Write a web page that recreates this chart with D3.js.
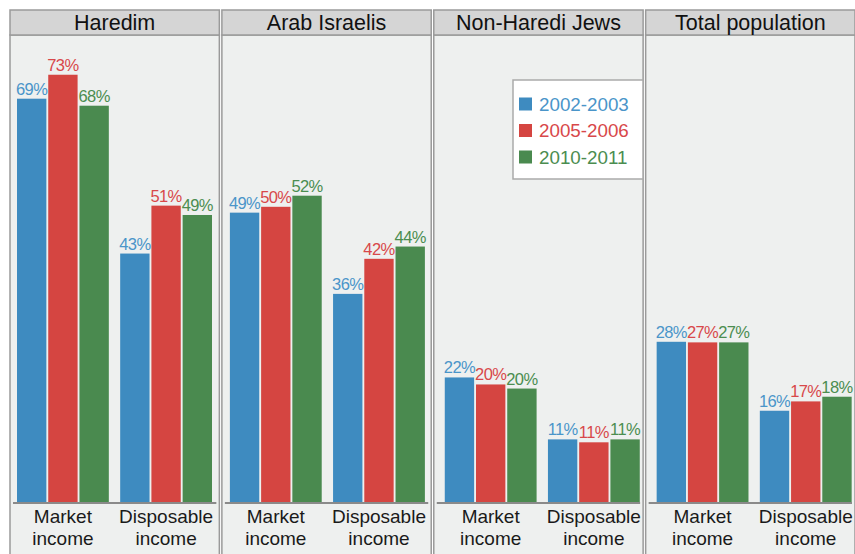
<!DOCTYPE html>
<html><head><meta charset="utf-8">
<script src="https://cdn.jsdelivr.net/npm/d3@7"></script>
<style>body{margin:0;background:#fff;font-family:"Liberation Sans",Arial,sans-serif;}</style>
</head><body><svg id="c" width="855" height="554"></svg>
<script>
const panels = ["Haredim", "Arab Israelis", "Non-Haredi Jews", "Total population"];
const categories = ["Market income", "Disposable income"];
const series = ["2002-2003", "2005-2006", "2010-2011"];
// values[category][series] in %
const haredimValues = [[69.1, 73.2, 67.9], [42.6, 50.8, 49.2]];
const arabValues = [[49.6, 50.6, 52.5], [35.7, 41.7, 43.8]];
const nonHarediValues = [[21.4, 20.2, 19.5], [10.8, 10.3, 10.8]];
const totalValues = [[27.5, 27.4, 27.4], [15.7, 17.3, 18.1]];
const haredimLabels = [[69, 73, 68], [43, 51, 49]];
const arabLabels = [[49, 50, 52], [36, 42, 44]];
const nonHarediLabels = [[22, 20, 20], [11, 11, 11]];
const totalLabels = [[28, 27, 27], [16, 17, 18]];
const allValues = [haredimValues, arabValues, nonHarediValues, totalValues];
const allLabels = [haredimLabels, arabLabels, nonHarediLabels, totalLabels];

// layout / style
const colors = ["#3e8bc0", "#d54541", "#4a8a4f"];
const textColors = ["#4a95c9", "#d8484a", "#4b8d50"];
const innerLeft = [7, 8, 11, 11];
const groupSpan = 195;

const svg = d3.select("#c");
const panelX = d3.scaleBand().domain(panels).range([10, 855]).paddingInner(0.012).paddingOuter(0);
const headerTop = 10, headerBot = 35, base = 502.5;
const y = d3.scaleLinear().domain([0, 80]).range([base, 35]);

panels.forEach((p, i) => {
  const x0 = panelX(p), w = panelX.bandwidth();
  const g = svg.append("g");
  g.append("rect").attr("x", x0).attr("y", headerBot).attr("width", w).attr("height", 600)
    .attr("fill", "#eef0ef").attr("stroke", "#9a9a9a").attr("stroke-width", 1.5);
  g.append("rect").attr("x", x0).attr("y", headerTop).attr("width", w).attr("height", headerBot - headerTop)
    .attr("fill", "#d5d5d5").attr("stroke", "#9a9a9a").attr("stroke-width", 1.5);
  g.append("text").attr("x", x0 + w / 2).attr("y", headerTop + 20).attr("text-anchor", "middle")
    .attr("font-size", 21.5).attr("fill", "#111").text(p);

  const gx = d3.scaleBand().domain(categories).range([x0 + innerLeft[i], x0 + innerLeft[i] + groupSpan]).paddingInner(0.11);
  const bx = d3.scaleBand().domain(series).range([0, gx.bandwidth()]).paddingInner(0.06);

  categories.forEach((c, ci) => {
    series.forEach((s, si) => {
      const v = allValues[i][ci][si];
      const bxp = gx(c) + bx(s);
      g.append("rect").attr("x", bxp).attr("y", y(v)).attr("width", bx.bandwidth())
        .attr("height", y(0) - y(v)).attr("fill", colors[si]);
      g.append("text").attr("x", bxp + bx.bandwidth() / 2).attr("y", y(v) - 4)
        .attr("text-anchor", "middle").attr("font-size", 16.5).attr("letter-spacing", -0.6)
        .attr("fill", textColors[si]).text(allLabels[i][ci][si] + "%");
    });
    const words = c.split(" ");
    const cx = gx(c) + gx.bandwidth() / 2;
    g.append("text").attr("x", cx).attr("y", 523).attr("text-anchor", "middle")
      .attr("font-size", 19).attr("fill", "#1a1a1a").text(words[0]);
    g.append("text").attr("x", cx).attr("y", 545).attr("text-anchor", "middle")
      .attr("font-size", 19).attr("fill", "#1a1a1a").text(words[1]);
  });
  g.append("line").attr("x1", x0 + 3).attr("x2", x0 + w - 3).attr("y1", base + 0.5).attr("y2", base + 0.5)
    .attr("stroke", "#8a8a8a").attr("stroke-width", 2);
});

// legend
const lg = svg.append("g").attr("transform", "translate(513,80)");
lg.append("rect").attr("width", 130).attr("height", 99).attr("fill", "#fff")
  .attr("stroke", "#aaaaaa").attr("stroke-width", 1.5);
series.forEach((s, si) => {
  const cy = 24 + si * 26.5;
  lg.append("rect").attr("x", 6).attr("y", cy - 6.5).attr("width", 13).attr("height", 13).attr("fill", colors[si]);
  lg.append("text").attr("x", 26).attr("y", cy + 6.5).attr("font-size", 18.8).attr("fill", textColors[si]).text(s);
});
</script></body></html>
